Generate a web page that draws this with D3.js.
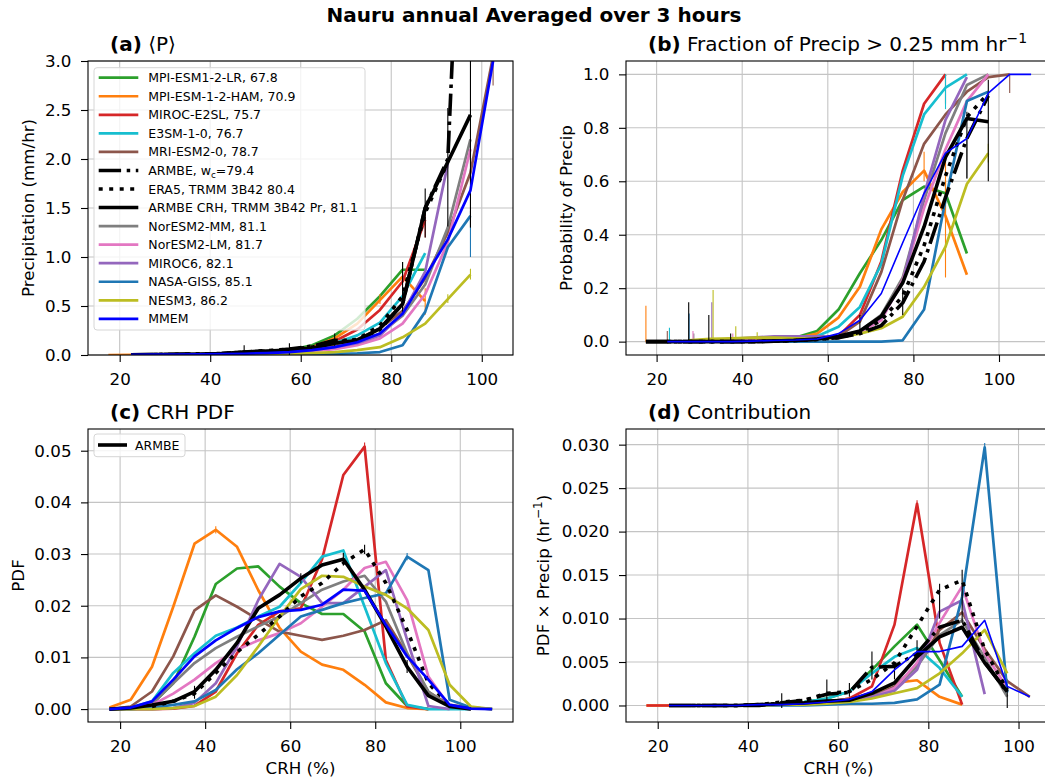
<!DOCTYPE html>
<html><head><meta charset="utf-8">
<script src="https://cdn.jsdelivr.net/npm/d3@7"></script>
<style>body{margin:0;background:#fff} text{font-family:"DejaVu Sans",sans-serif}</style>
</head><body><svg id="c" width="1045" height="782"></svg>
<script>
// ---------- categories ----------
const crhBins = [17.5,22.5,27.5,32.5,37.5,42.5,47.5,52.5,57.5,62.5,67.5,72.5,77.5,82.5,87.5,92.5,97.5,102.5,107.5];
const xTickVals = [20,40,60,80,100];

// series (legend order)
const seriesKeys = ["mpiLR","mpiHAM","mirocE2SL","e3sm","mri","armbeWc","era5","armbeCRH","norMM","norLM","miroc6","giss","nesm3","mmem"];
const seriesLabels = ["MPI-ESM1-2-LR, 67.8","MPI-ESM-1-2-HAM, 70.9","MIROC-E2SL, 75.7","E3SM-1-0, 76.7","MRI-ESM2-0, 78.7","ARMBE, w_c=79.4","ERA5, TRMM 3B42 80.4","ARMBE CRH, TRMM 3B42 Pr, 81.1","NorESM2-MM, 81.1","NorESM2-LM, 81.7","MIROC6, 82.1","NASA-GISS, 85.1","NESM3, 86.2","MMEM"];
const seriesColors = ["#2ca02c","#ff7f0e","#d62728","#17becf","#8c564b","#000000","#000000","#000000","#7f7f7f","#e377c2","#9467bd","#1f77b4","#bcbd22","#0000ff"];

// ---------- (a) precipitation (mm/hr), rows in seriesKeys order ----------
const N = null;
const precipValues = [
 [N,0.003,0.004,0.005,0.006,0.01,0.015,0.025,0.05,0.1,0.2,0.37,0.6,0.87,0.87,N,N,N,N],
 [0,0.002,0.003,0.004,0.006,0.009,0.013,0.02,0.035,0.08,0.17,0.32,0.56,0.8,0.55,N,N,N,N],
 [N,N,0.002,0.003,0.004,0.006,0.01,0.015,0.03,0.07,0.14,0.26,0.46,0.75,1.38,N,N,N,N],
 [N,0.002,0.003,0.004,0.006,0.01,0.015,0.025,0.04,0.07,0.12,0.2,0.33,0.6,1.04,N,N,N,N],
 [N,0.002,0.003,0.004,0.006,0.008,0.012,0.02,0.035,0.055,0.09,0.16,0.27,0.45,0.78,1.25,1.86,3.05,N],
 [N,0.003,0.005,0.008,0.01,0.015,0.03,0.04,0.06,0.09,0.15,0.15,0.26,0.52,1.5,2.0,7.2,N,N],
 [N,N,0.004,0.006,0.01,0.015,0.03,0.045,0.06,0.08,0.13,0.16,0.3,0.6,1.45,1.97,N,N,N],
 [N,0.003,0.005,0.008,0.01,0.015,0.03,0.04,0.05,0.07,0.12,0.15,0.27,0.52,1.5,1.97,2.45,N,N],
 [N,0.002,0.003,0.004,0.006,0.008,0.012,0.018,0.03,0.05,0.08,0.13,0.22,0.4,0.72,1.3,2.2,N,N],
 [N,0.002,0.003,0.004,0.005,0.007,0.01,0.015,0.025,0.04,0.06,0.1,0.17,0.32,0.62,1.15,2.1,N,N],
 [N,N,0.003,0.004,0.006,0.01,0.02,0.022,0.03,0.05,0.08,0.12,0.2,0.42,0.85,1.95,N,N,N],
 [N,0.001,0.001,0.002,0.002,0.003,0.004,0.005,0.006,0.008,0.012,0.018,0.03,0.1,0.44,1.1,1.42,N,N],
 [N,0.002,0.003,0.004,0.005,0.006,0.008,0.01,0.013,0.02,0.03,0.05,0.08,0.18,0.32,0.57,0.82,N,N],
 [N,0.002,0.003,0.004,0.006,0.009,0.013,0.02,0.03,0.05,0.08,0.13,0.22,0.42,0.8,1.18,1.68,3.0,N]
];
// error bars: [series index, CRH, low, high]
const precipErr = [
 [7,47.5,0,0.1],[7,57.5,0,0.12],[7,67.5,0.08,0.22],[5,82.5,0.42,0.95],[7,87.5,1.2,1.7],[7,92.5,1.31,2.52],[7,97.5,1.3,3.2],
 [1,87.5,0.41,0.68],[1,77.5,0.52,0.62],[0,82.5,0.8,0.95],[4,102.5,2.75,3.05],[12,97.5,0.77,0.88],[12,92.5,0.53,0.62],[11,97.5,1.0,1.47],[2,87.5,1.2,1.5]
];

// ---------- (b) fraction of precip > 0.25 mm/hr ----------
const fracValues = [
 [N,0,0,0,0.005,0.008,0.01,0.015,0.04,0.12,0.256,0.38,0.53,0.58,0.555,0.33,N,N,N],
 [0,0,0,0,0.005,0.008,0.01,0.012,0.03,0.09,0.205,0.42,0.56,0.64,0.47,0.25,N,N,N],
 [N,N,0,0,0.002,0.004,0.006,0.008,0.01,0.02,0.1,0.3,0.64,0.89,1.0,N,N,N,N],
 [N,0,0,0,0.002,0.004,0.006,0.01,0.02,0.056,0.13,0.29,0.62,0.85,0.95,1.0,N,N,N],
 [N,0,0,0,0.002,0.004,0.006,0.008,0.01,0.02,0.075,0.26,0.53,0.74,0.85,0.935,0.99,1.0,N],
 [0,0,0,0,0,0,0.002,0.004,0.008,0.015,0.03,0.06,0.145,0.3,0.54,0.76,0.92,N,N],
 [N,0,0,0,0,0,0.002,0.004,0.008,0.015,0.035,0.08,0.17,0.36,0.62,0.84,0.93,N,N],
 [0,0,0,0,0,0,0.002,0.005,0.01,0.02,0.04,0.095,0.22,0.43,0.69,0.835,0.823,N,N],
 [N,0,0,0,0.002,0.004,0.006,0.008,0.01,0.015,0.04,0.1,0.24,0.53,0.78,0.96,1.0,N,N],
 [N,0,0,0,0.002,0.005,0.008,0.01,0.012,0.015,0.035,0.08,0.23,0.5,0.72,0.9,1.0,N,N],
 [N,0,0,0.005,0.01,0.015,0.02,0.02,0.02,0.02,0.04,0.09,0.22,0.55,0.83,0.99,N,N,N],
 [N,0,0,0,0,0,0,0,0,0,0,0,0.005,0.12,0.53,0.9,0.935,N,N],
 [N,N,0.005,0.01,0.012,0.015,0.015,0.012,0.01,0.015,0.03,0.05,0.093,0.205,0.355,0.59,0.705,N,N],
 [N,0,0,0,0,0.002,0.004,0.006,0.01,0.03,0.08,0.18,0.37,0.555,0.705,0.76,0.93,1.0,1.0]
];
const fracErr = [
 [1,17.5,0,0.134],[4,22.5,0,0.04],[3,23,0,0.052],[7,27.5,0,0.147],[11,27.6,0,0.105],[9,28.5,0,0.04],[8,28.7,0,0.03],
 [7,32.2,0,0.1],[10,32.9,0,0.147],[12,33.2,0,0.193],[7,37.3,0,0.03],[9,37.8,0,0.03],[12,38.5,0,0.058],[12,43.5,0,0.035],
 [7,97.5,0.6,0.98],[7,92.5,0.61,0.86],[8,92.5,0.61,0.77],[1,87.5,0.24,0.7],[1,82.5,0.6,0.71],[0,87.5,0.45,0.6],
 [4,102.5,0.93,1.0],[12,97.5,0.67,0.74],[3,87.5,0.87,1.0],[2,87.5,0.89,1.0],[5,77.5,0.1,0.2],[7,67.5,0.03,0.1]
];

// ---------- (c) CRH PDF ----------
const pdfValues = [
 [0,0.0002,0.001,0.005,0.014,0.0242,0.0272,0.0276,0.0237,0.0205,0.0184,0.0184,0.015,0.005,0.0006,0,N,N,N],
 [0.0003,0.0018,0.0082,0.0198,0.032,0.0347,0.0314,0.023,0.0157,0.0111,0.0086,0.0076,0.0047,0.0013,0.0002,0,N,N,N],
 [0,0,0,0.0001,0.0006,0.0034,0.0108,0.0163,0.0189,0.0195,0.029,0.0453,0.0508,0.0095,0.0005,0,N,N,N],
 [0,0.0003,0.0015,0.007,0.0108,0.0142,0.0158,0.0179,0.0198,0.0244,0.0295,0.0307,0.0198,0.0089,0.0008,0,0,0,N],
 [0,0.0005,0.0034,0.0102,0.0191,0.022,0.0198,0.0173,0.015,0.0142,0.0134,0.0142,0.0153,0.0172,0.0105,0.0033,0.0008,0.0003,0],
 null,
 [N,N,0.0005,0.0015,0.003,0.007,0.011,0.0144,0.0179,0.0218,0.0244,0.0282,0.0309,0.0244,0.0153,0.005,0.0007,N,N],
 [0,0.0002,0.0008,0.0015,0.0034,0.0076,0.0128,0.0195,0.0221,0.0253,0.0279,0.029,0.0231,0.016,0.0082,0.0026,0.0005,0,N],
 [0,0.0002,0.001,0.005,0.0089,0.0118,0.014,0.016,0.0179,0.0205,0.0231,0.0247,0.0258,0.0208,0.0108,0.0034,0.0005,0,N],
 [0,0.0002,0.0008,0.003,0.0057,0.0089,0.0115,0.0133,0.0147,0.0166,0.0198,0.0231,0.0273,0.0285,0.0211,0.0063,0.0005,0,N],
 [0,0,0,0.0002,0.0012,0.005,0.0121,0.0211,0.0281,0.0256,0.0205,0.0205,0.0237,0.0269,0.0134,0.0006,0,N,N],
 [0,0,0.0003,0.0008,0.0015,0.0037,0.0077,0.0108,0.0144,0.0179,0.0192,0.0205,0.0215,0.0224,0.0295,0.0269,0.0018,0.0003,0],
 [0,0,0,0.0002,0.0006,0.0024,0.0066,0.0121,0.0179,0.0232,0.0258,0.0256,0.0237,0.0221,0.0195,0.0153,0.0047,0.0005,0],
 [0,0.0003,0.0015,0.0057,0.0102,0.0133,0.0157,0.0178,0.0189,0.0192,0.0202,0.0231,0.0229,0.0163,0.0102,0.0057,0.0008,0.0001,0]
];
const pdfErr = [
 [7,37.5,0.002,0.0045],[7,62.5,0.0243,0.0263],[7,72.5,0.0278,0.0302],[7,87.5,0.007,0.0095],[2,77.5,0.0500,0.0516],
 [6,77.5,0.0300,0.0318],[1,42.5,0.0340,0.0354],[11,87.5,0.0288,0.0302]
];

// ---------- (d) contribution PDF x precip ----------
const contribValues = [
 [N,0,0,0,0,0.0001,0.0002,0.0004,0.0008,0.0016,0.0041,0.0068,0.0093,0.0052,0.001,N,N,N,N],
 [0,0,0,0,0,0.0001,0.0001,0.0002,0.0004,0.0008,0.0012,0.0026,0.0029,0.001,0.0001,N,N,N,N],
 [0,0,0,0,0,0,0.0001,0.0002,0.0004,0.0008,0.0022,0.0093,0.0232,0.0072,0.0001,N,N,N,N],
 [N,0,0,0,0,0.0001,0.0002,0.0004,0.0008,0.0016,0.0037,0.0056,0.0066,0.0043,0.001,N,N,N,N],
 [N,0,0,0,0,0.0001,0.0002,0.0003,0.0005,0.0007,0.001,0.0022,0.0045,0.0087,0.0107,0.0065,0.0028,0.001,N],
 [N,0,0,0,0,0,0.0003,0.0006,0.0013,0.0015,0.0044,0.0045,0.006,0.009,0.0098,0.005,0.0015,N,N],
 [N,N,0,0,0,0.0001,0.0004,0.0006,0.0014,0.0016,0.003,0.0049,0.0091,0.0133,0.0144,0.0064,0.0018,N,N],
 [N,0,0,0,0,0.0001,0.0002,0.0003,0.0005,0.0006,0.0014,0.0026,0.0056,0.0079,0.009,0.0049,0.0016,N,N],
 [N,0,0,0,0,0.0001,0.0001,0.0002,0.0004,0.0006,0.001,0.002,0.0045,0.0081,0.0098,0.0055,0.001,N,N],
 [N,0,0,0,0,0.0001,0.0001,0.0002,0.0003,0.0005,0.0009,0.002,0.0049,0.0095,0.0137,0.006,0.002,N,N],
 [N,0,0,0,0,0,0.0001,0.0003,0.0005,0.0007,0.001,0.0017,0.0041,0.0108,0.0121,0.0013,N,N,N],
 [N,0,0,0,0,0,0,0,0.0001,0.0002,0.0002,0.0003,0.0007,0.0024,0.0125,0.0297,0.0015,N,N],
 [N,0,0,0,0,0,0.0001,0.0001,0.0002,0.0004,0.0008,0.0014,0.002,0.0037,0.006,0.0087,0.0037,N,N],
 [N,0,0,0,0,0.0001,0.0001,0.0002,0.0004,0.0007,0.0016,0.0041,0.0062,0.0062,0.0068,0.0098,0.0022,0.001,N]
];
const contribErr = [
 [7,47.5,-0.0003,0.0014],[7,57.5,0.0005,0.003],[7,62.5,0.001,0.0026],[7,67.5,0.003,0.0062],[7,72.5,0.003,0.005],
 [7,77.5,0.0056,0.0075],[7,82.5,0.01,0.014],[7,87.5,0.0095,0.0156],[7,97.5,-0.0003,0.0022],[11,92.5,0.029,0.0302],[2,77.5,0.0226,0.0236]
];

// ---------- drawing ----------
const svg = d3.select("#c");
const FONT = "DejaVu Sans";
const drawOrder = [0,1,2,3,4,8,9,10,11,12,5,6,7,13];

function styleFor(i, panelId) {
  const k = seriesKeys[i];
  if (k === "armbeWc") return {w:3.6, dash:"22.4,5.6,3.5,5.6", cap:"butt"};
  if (k === "era5") return {w:3.6, dash:"4,6.5", cap:"butt"};
  if (k === "armbeCRH") return {w:3.6, dash:null, cap:"butt"};
  if (k === "mmem" && (panelId === "b" || panelId === "d")) return {w:1.6, dash:null, cap:"butt"};
  return {w:2.7, dash:null, cap:"butt"};
}

const panels = [
 {id:"a", left:88, top:61, w:425, h:294, xd:[13.0,106.9], yd:[0,3], yticks:[0,0.5,1,1.5,2,2.5,3], fmt:d3.format(".1f"), data:precipValues, err:precipErr},
 {id:"b", left:626, top:61, w:425, h:294, xd:[12.85,112.15], yd:[-0.05,1.05], yticks:[0,0.2,0.4,0.6,0.8,1.0], fmt:d3.format(".1f"), data:fracValues, err:fracErr},
 {id:"c", left:88, top:429, w:425, h:293, xd:[12.45,112.4], yd:[-0.0025,0.0542], yticks:[0,0.01,0.02,0.03,0.04,0.05], fmt:d3.format(".2f"), data:pdfValues, err:pdfErr},
 {id:"d", left:626, top:429, w:425, h:293, xd:[12.97,107.2], yd:[-0.0019,0.0318], yticks:[0,0.005,0.01,0.015,0.02,0.025,0.03], fmt:d3.format(".3f"), data:contribValues, err:contribErr}
];

panels.forEach(p => {
  const x = d3.scaleLinear().domain(p.xd).range([p.left, p.left + p.w]);
  const y = d3.scaleLinear().domain(p.yd).range([p.top + p.h, p.top]);
  const g = svg.append("g");
  // grid
  g.append("g").selectAll("line").data(xTickVals).join("line")
    .attr("x1", d => x(d)).attr("x2", d => x(d)).attr("y1", p.top).attr("y2", p.top + p.h)
    .attr("stroke", "#c4c4c4").attr("stroke-width", 1.1);
  g.append("g").selectAll("line").data(p.yticks).join("line")
    .attr("y1", d => y(d)).attr("y2", d => y(d)).attr("x1", p.left).attr("x2", p.left + p.w)
    .attr("stroke", "#c4c4c4").attr("stroke-width", 1.1);
  // clip
  const cid = "clip" + p.id;
  svg.append("clipPath").attr("id", cid).append("rect")
    .attr("x", p.left).attr("y", p.top).attr("width", p.w).attr("height", p.h);
  const lg = g.append("g").attr("clip-path", `url(#${cid})`);
  const line = d3.line().defined(d => d[1] != null).x(d => x(d[0])).y(d => y(d[1]));
  drawOrder.forEach(i => {
    const vals = p.data[i];
    if (!vals) return;
    const st = styleFor(i, p.id);
    const pts = crhBins.map((b, j) => [b, vals[j]]);
    const path = lg.append("path").attr("d", line(pts)).attr("fill", "none")
      .attr("stroke", seriesColors[i]).attr("stroke-width", st.w)
      .attr("stroke-linejoin", "round").attr("stroke-linecap", st.cap);
    if (st.dash) path.attr("stroke-dasharray", st.dash);
    p.err.filter(e => e[0] === i).forEach(e => {
      lg.append("line").attr("x1", x(e[1])).attr("x2", x(e[1]))
        .attr("y1", y(e[2])).attr("y2", y(e[3]))
        .attr("stroke", seriesColors[i]).attr("stroke-width", 1.1);
    });
  });
  // frame
  g.append("rect").attr("x", p.left).attr("y", p.top).attr("width", p.w).attr("height", p.h)
    .attr("fill", "none").attr("stroke", "#000").attr("stroke-width", 1.1);
  // axes
  const xa = d3.axisBottom(x).tickValues(xTickVals).tickSize(7).tickPadding(11).tickFormat(d3.format("d"));
  const gx = g.append("g").attr("transform", `translate(0,${p.top + p.h})`).call(xa);
  gx.select(".domain").remove();
  gx.attr("font-family", FONT).attr("font-size", 16.7);
  gx.selectAll("line").attr("stroke-width", 1.1);
  const ya = d3.axisLeft(y).tickValues(p.yticks).tickSize(7).tickPadding(9.5).tickFormat(p.fmt);
  const gy = g.append("g").attr("transform", `translate(${p.left},0)`).call(ya);
  gy.select(".domain").remove();
  gy.attr("font-family", FONT).attr("font-size", 16.7);
  gy.selectAll("line").attr("stroke-width", 1.1);
});

// ---------- texts ----------
svg.append("text").attr("x", 534).attr("y", 22).attr("text-anchor", "middle")
  .attr("font-size", 20).attr("font-weight", "bold").text("Nauru annual Averaged over 3 hours");

function title(xp, yp, bold, rest, sup) {
  const t = svg.append("text").attr("x", xp).attr("y", yp).attr("font-size", 20);
  t.append("tspan").attr("font-weight", "bold").text(bold);
  t.append("tspan").text(rest);
  if (sup) t.append("tspan").attr("dy", -8).attr("font-size", 14).text(sup);
}
title(110, 51, "(a)", " \u27E8P\u27E9");
title(648, 51, "(b)", " Fraction of Precip > 0.25 mm hr", "\u22121");
title(110, 419, "(c)", " CRH PDF");
title(648, 419, "(d)", " Contribution");

function ylabel(xp, yc, parts) {
  const t = svg.append("text").attr("transform", `translate(${xp},${yc}) rotate(-90)`)
    .attr("text-anchor", "middle").attr("font-size", 16.7);
  parts.forEach(pt => {
    const s = t.append("tspan").text(pt.t);
    if (pt.dy) s.attr("dy", pt.dy);
    if (pt.fs) s.attr("font-size", pt.fs);
  });
}
ylabel(34, 208, [{t:"Precipitation (mm/hr)"}]);
ylabel(572, 208, [{t:"Probability of Precip"}]);
ylabel(23.5, 575.5, [{t:"PDF"}]);
ylabel(549, 575.5, [{t:"PDF \u00D7 Precip (hr"},{t:"\u22121", dy:-7, fs:12},{t:")", dy:7}]);

svg.append("text").attr("x", 300.5).attr("y", 774).attr("text-anchor", "middle").attr("font-size", 16.7).text("CRH (%)");
svg.append("text").attr("x", 838.5).attr("y", 774).attr("text-anchor", "middle").attr("font-size", 16.7).text("CRH (%)");

// ---------- legends ----------
function legendHandle(gg, i, x1, x2, yy, pid) {
  const st = styleFor(i, pid);
  const l = gg.append("line").attr("x1", x1).attr("x2", x2).attr("y1", yy).attr("y2", yy)
    .attr("stroke", seriesColors[i]).attr("stroke-width", st.w).attr("stroke-linecap", "butt");
  if (st.dash) l.attr("stroke-dasharray", st.dash);
}
const legA = svg.append("g");
legA.append("rect").attr("x", 94).attr("y", 67.7).attr("width", 271).attr("height", 262.3)
  .attr("rx", 3).attr("fill", "#fff").attr("fill-opacity", 0.8).attr("stroke", "#d6d6d6").attr("stroke-width", 1);
seriesKeys.forEach((k, i) => {
  const yy = 77.7 + i * 18.55;
  legendHandle(legA, i, 98.7, 138.3, yy, "a");
  const t = legA.append("text").attr("x", 148.3).attr("y", yy).attr("dy", "0.36em").attr("font-size", 12.5);
  const lab = seriesLabels[i];
  if (lab.includes("w_c")) {
    const [pre, post] = lab.split("w_c");
    t.append("tspan").text(pre + "w");
    t.append("tspan").attr("dy", 3).attr("font-size", 8.8).text("c");
    t.append("tspan").attr("dy", -3).text(post);
  } else t.text(lab);
});
const legC = svg.append("g");
legC.append("rect").attr("x", 94).attr("y", 434).attr("width", 91).attr("height", 22.7)
  .attr("rx", 3).attr("fill", "#fff").attr("fill-opacity", 0.8).attr("stroke", "#d6d6d6").attr("stroke-width", 1);
legendHandle(legC, 7, 98, 127, 445, "c");
legC.append("text").attr("x", 135).attr("y", 445).attr("dy", "0.36em").attr("font-size", 12.5).text("ARMBE");
</script></body></html>
